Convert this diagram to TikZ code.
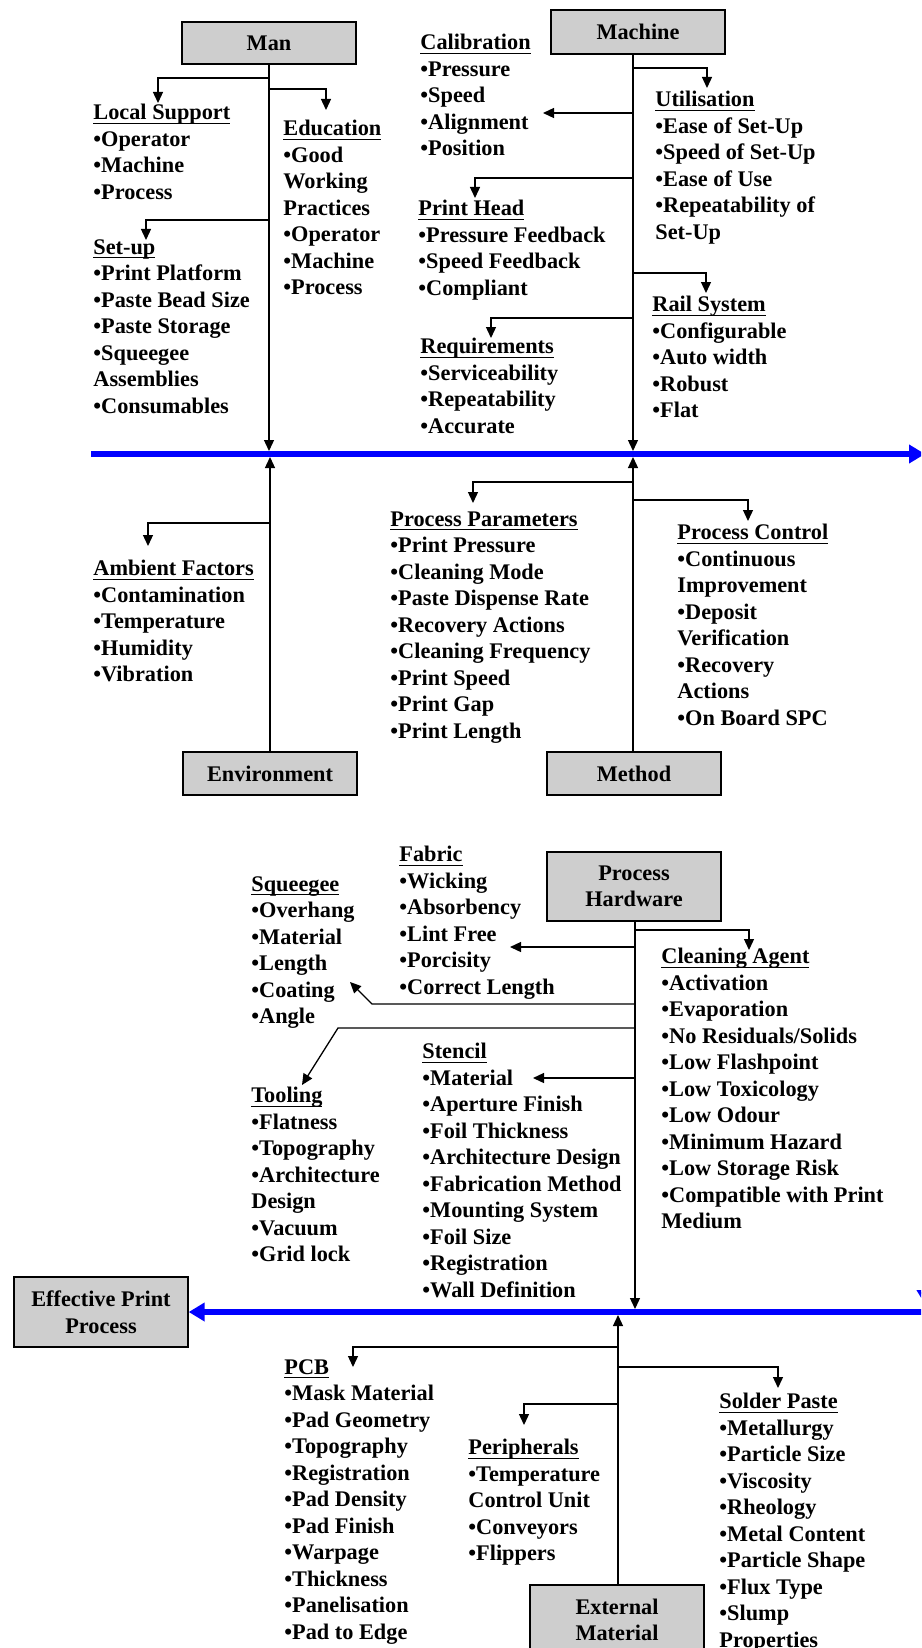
\documentclass[tikz,border=0pt]{standalone}
\usepackage{fontspec}
\setmainfont{Liberation Serif}
\usetikzlibrary{arrows.meta}

\definecolor{boxgray}{RGB}{206,206,206}

% underlined heading of a factor list
\newcommand{\cathead}[1]{\setbox0\hbox{#1}\rlap{\rule[-2pt]{\wd0}{0.6pt}}\box0}

\tikzset{
  causebox/.style={draw,line width=0.7pt,fill=boxgray,minimum width=87pt,inner sep=0pt,align=center},
  factors/.style={anchor=north west,inner sep=0pt,align=left},
  branch/.style={line width=0.65pt},
  twig/.style={branch,-{Triangle[width=5pt,length=5.5pt]}},
  spine/.style={blue,line width=3pt,-{Triangle[width=9pt,length=8pt]}}
}

\begin{document}
\begin{tikzpicture}[x=0.5pt,y=-0.5pt,font=\fontsize{11.15pt}{13.25pt}\selectfont\bfseries]

\path[use as bounding box,clip] (0,0) rectangle (921,1648);

% main boxes
\node[causebox,minimum height=21pt]
(Man)
at (269,43)
{Man};

\node[causebox,minimum height=22pt]
(Machine)
at (638,32)
{Machine};

\node[causebox,minimum height=21.5pt]
(Environment)
at (270,773.5)
{Environment};

\node[causebox,minimum height=21.5pt]
(Method)
at (634,773.5)
{Method};

\node[causebox,minimum height=34.5pt]
(Hardware)
at (634,886.5)
{Process\\Hardware};

\node[causebox,minimum height=35pt]
(Effective)
at (101,1312)
{Effective Print\\Process};

\node[causebox,minimum height=35pt]
(External)
at (617,1620)
{External\\Material};

% blue backbones
\coordinate (TopStart) at (91,454);
\coordinate (TopEnd) at (925,454);
\coordinate (DropEnd) at (926,1306);
\coordinate (LowStart) at (924,1312);

\draw[spine]
(TopStart)
--
(TopEnd);

\draw[spine]
(TopEnd)
--
(DropEnd);

\draw[spine]
(LowStart)
--
(Effective.east);

% spines onto the backbones
\coordinate (ManHit) at (269,451);
\coordinate (MachHit) at (633,451);
\coordinate (EnvHit) at (270,457);
\coordinate (MethHit) at (633,457);
\coordinate (HardHit) at (635,1309);
\coordinate (ExtHit) at (618,1315);

\draw[twig] (Man.south) -- (ManHit);
\draw[twig] (Machine.south -| MachHit) -- (MachHit);
\draw[twig] (Environment.north) -- (EnvHit);
\draw[twig] (Method.north -| MethHit) -- (MethHit);
\draw[twig] (Hardware.south -| HardHit) -- (HardHit);
\draw[twig] (External.north -| ExtHit) -- (ExtHit);

% Man
\node[factors]
(LocalSupport)
at (93,104)
{\cathead{Local Support}\\•Operator\\•Machine\\•Process};

\node[factors]
(Education)
at (283,120)
{\cathead{Education}\\•Good\\Working\\Practices\\•Operator\\•Machine\\•Process};

\node[factors]
(SetUp)
at (93,239)
{\cathead{Set-up}\\•Print Platform\\•Paste Bead Size\\•Paste Storage\\•Squeegee\\Assemblies\\•Consumables};

\coordinate (LsJ) at (269,78);
\coordinate (LsTip) at (158,103);
\coordinate (EdJ) at (269,89);
\coordinate (EdTip) at (326,110);
\coordinate (SuJ) at (269,220);
\coordinate (SuTip) at (146,240);

\draw[twig] (LsJ) -| (LsTip);
\draw[twig] (EdJ) -| (EdTip);
\draw[twig] (SuJ) -| (SuTip);

% Machine
\node[factors]
(Calibration)
at (420,34)
{\cathead{Calibration}\\•Pressure\\•Speed\\•Alignment\\•Position};

\node[factors]
(Utilisation)
at (655,91)
{\cathead{Utilisation}\\•Ease of Set-Up\\•Speed of Set-Up\\•Ease of Use\\•Repeatability of\\Set-Up};

\node[factors]
(PrintHead)
at (418,200)
{\cathead{Print Head}\\•Pressure Feedback\\•Speed Feedback\\•Compliant};

\node[factors]
(RailSystem)
at (652,296)
{\cathead{Rail System}\\•Configurable\\•Auto width\\•Robust\\•Flat};

\node[factors]
(Requirements)
at (420,338)
{\cathead{Requirements}\\•Serviceability\\•Repeatability\\•Accurate};

\coordinate (UtJ) at (633,68);
\coordinate (UtTip) at (707,88);
\coordinate (CaJ) at (633,113);
\coordinate (CaTip) at (543,113);
\coordinate (PhJ) at (633,178);
\coordinate (PhTip) at (475,198);
\coordinate (RsJ) at (633,273);
\coordinate (RsTip) at (706,293);
\coordinate (RqJ) at (633,318);
\coordinate (RqTip) at (491,338);

\draw[twig] (UtJ) -| (UtTip);
\draw[twig] (CaJ) -- (CaTip);
\draw[twig] (PhJ) -| (PhTip);
\draw[twig] (RsJ) -| (RsTip);
\draw[twig] (RqJ) -| (RqTip);

% Environment
\node[factors]
(Ambient)
at (93,560)
{\cathead{Ambient Factors}\\•Contamination\\•Temperature\\•Humidity\\•Vibration};

\coordinate (AfJ) at (270,523);
\coordinate (AfTip) at (148,546);

\draw[twig] (AfJ) -| (AfTip);

% Method
\node[factors]
(Parameters)
at (390,511)
{\cathead{Process Parameters}\\•Print Pressure\\•Cleaning Mode\\•Paste Dispense Rate\\•Recovery Actions\\•Cleaning Frequency\\•Print Speed\\•Print Gap\\•Print Length};

\node[factors]
(Control)
at (677,524)
{\cathead{Process Control}\\•Continuous\\Improvement\\•Deposit\\Verification\\•Recovery\\Actions\\•On Board SPC};

\coordinate (PpJ) at (633,482);
\coordinate (PpTip) at (473,503);
\coordinate (PcJ) at (633,500);
\coordinate (PcTip) at (748,521);

\draw[twig] (PpJ) -| (PpTip);
\draw[twig] (PcJ) -| (PcTip);

% Process Hardware
\node[factors]
(Fabric)
at (399,846)
{\cathead{Fabric}\\•Wicking\\•Absorbency\\•Lint Free\\•Porcisity\\•Correct Length};

\node[factors]
(Squeegee)
at (251,876)
{\cathead{Squeegee}\\•Overhang\\•Material\\•Length\\•Coating\\•Angle};

\node[factors]
(CleaningAgent)
at (661,948)
{\cathead{Cleaning Agent}\\•Activation\\•Evaporation\\•No Residuals/Solids\\•Low Flashpoint\\•Low Toxicology\\•Low Odour\\•Minimum Hazard\\•Low Storage Risk\\•Compatible with Print\\Medium};

\node[factors]
(Tooling)
at (251,1087)
{\cathead{Tooling}\\•Flatness\\•Topography\\•Architecture\\Design\\•Vacuum\\•Grid lock};

\node[factors]
(Stencil)
at (422,1043)
{\cathead{Stencil}\\•Material\\•Aperture Finish\\•Foil Thickness\\•Architecture Design\\•Fabrication Method\\•Mounting System\\•Foil Size\\•Registration\\•Wall Definition};

\coordinate (CgJ) at (635,930);
\coordinate (CgTip) at (749,950);
\coordinate (FbJ) at (635,947);
\coordinate (FbTip) at (510,947);
\coordinate (SqJ) at (635,1004);
\coordinate (SqBend) at (372,1004);
\coordinate (SqTip) at (350,982);
\coordinate (TlJ) at (635,1028);
\coordinate (TlBend) at (338,1028);
\coordinate (TlTip) at (302,1085);
\coordinate (StJ) at (635,1078);
\coordinate (StTip) at (533,1078);

\draw[twig] (CgJ) -| (CgTip);
\draw[twig] (FbJ) -- (FbTip);
\draw[twig] (SqJ) -- (SqBend) -- (SqTip);
\draw[twig] (TlJ) -- (TlBend) -- (TlTip);
\draw[twig] (StJ) -- (StTip);

% External Material
\node[factors]
(PCB)
at (284,1359)
{\cathead{PCB}\\•Mask Material\\•Pad Geometry\\•Topography\\•Registration\\•Pad Density\\•Pad Finish\\•Warpage\\•Thickness\\•Panelisation\\•Pad to Edge};

\node[factors]
(Peripherals)
at (468,1439)
{\cathead{Peripherals}\\•Temperature\\Control Unit\\•Conveyors\\•Flippers};

\node[factors]
(SolderPaste)
at (719,1393)
{\cathead{Solder Paste}\\•Metallurgy\\•Particle Size\\•Viscosity\\•Rheology\\•Metal Content\\•Particle Shape\\•Flux Type\\•Slump\\Properties};

\coordinate (PcbJ) at (618,1347);
\coordinate (PcbTip) at (353,1367);
\coordinate (SpJ) at (618,1367);
\coordinate (SpTip) at (778,1388);
\coordinate (PeJ) at (618,1404);
\coordinate (PeTip) at (524,1425);

\draw[twig] (PcbJ) -| (PcbTip);
\draw[twig] (SpJ) -| (SpTip);
\draw[twig] (PeJ) -| (PeTip);

\end{tikzpicture}
\end{document}
